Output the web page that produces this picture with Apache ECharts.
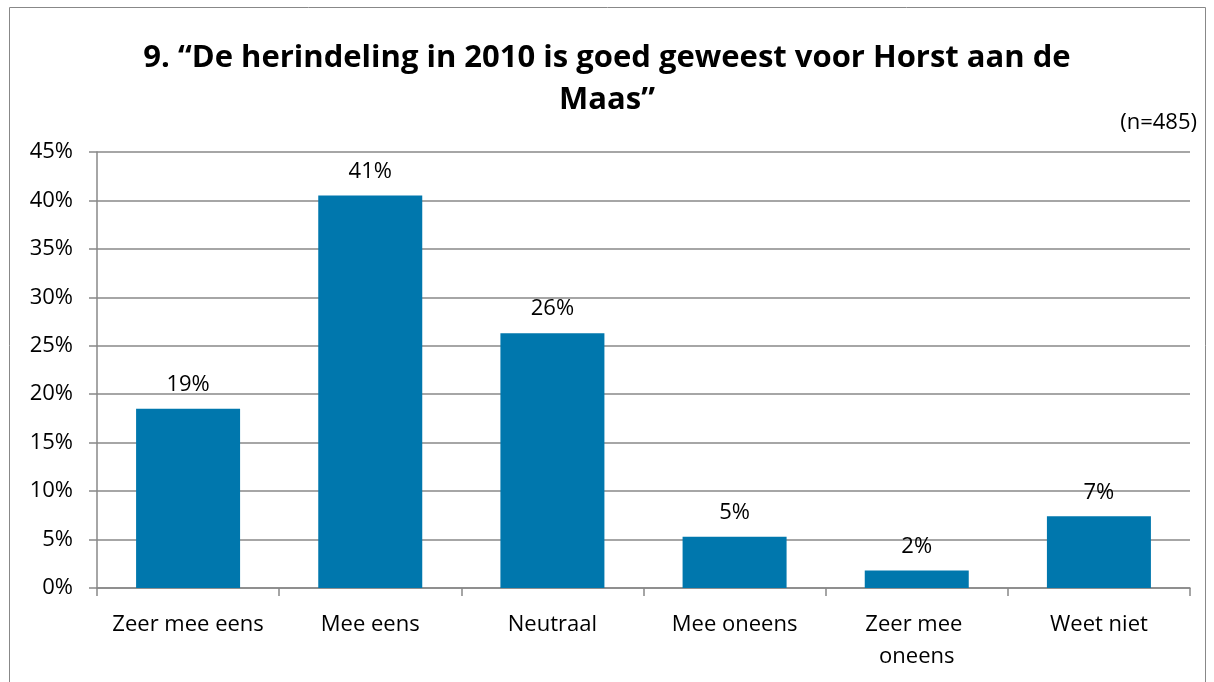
<!DOCTYPE html>
<html><head><meta charset="utf-8">
<script src="https://cdn.jsdelivr.net/npm/echarts@6/dist/echarts.min.js"></script>
<style>html,body{margin:0;padding:0;background:#fff}#c{width:1214px;height:682px}</style>
</head><body><div id="c"></div>
<script>
const categories = ["Zeer mee eens", "Mee eens", "Neutraal", "Mee oneens", "Zeer mee oneens", "Weet niet"];
const values = [18.5, 40.5, 26.3, 5.3, 1.8, 7.4];
const yTicks = {min: 0, max: 45, interval: 5};
const titleText = "9. \u201cDe herindeling in 2010 is goed geweest voor Horst aan de\nMaas\u201d";
const noteText = "(n=485)";
const FONT = "Open Sans";

const chart = echarts.init(document.getElementById('c'), null, {renderer: 'canvas'});
chart.setOption({
  animation: false,
  backgroundColor: '#fff',
  title: {
    text: titleText, left: 'center', top: 32,
    textStyle: {fontFamily: FONT, fontWeight: 'bold', fontSize: 31, color: '#000', lineHeight: 42}
  },
  graphic: [
    {type: 'rect', shape: {x: 9.5, y: 7.5, width: 1196, height: 690}, style: {fill: 'none', stroke: '#888', lineWidth: 1}},
    {type: 'text', right: 17, top: 112, style: {text: noteText, font: '22px ' + FONT, fill: '#000'}}
  ],
  grid: {left: 97, right: 24, top: 152, bottom: 94, containLabel: false},
  xAxis: {
    type: 'category', data: categories,
    axisLine: {lineStyle: {color: '#888', width: 1.5}},
    axisTick: {show: true, length: 8, lineStyle: {color: '#888', width: 1.5}},
    axisLabel: {fontFamily: FONT, fontSize: 22, color: '#000', margin: 21, lineHeight: 32,
      width: 165, overflow: 'break', interval: 0}
  },
  yAxis: {
    type: 'value', min: yTicks.min, max: yTicks.max, interval: yTicks.interval,
    axisLine: {show: true, lineStyle: {color: '#888', width: 1.5}},
    axisTick: {show: true, length: 8, lineStyle: {color: '#888', width: 1.5}},
    splitLine: {lineStyle: {color: '#888', width: 1.5}},
    axisLabel: {formatter: '{value}%', fontFamily: FONT, fontSize: 22, color: '#000', margin: 24}
  },
  series: [{
    type: 'bar', data: values, barWidth: 104,
    itemStyle: {color: '#0077AD'},
    label: {show: true, position: 'top', distance: 13, fontFamily: FONT, fontSize: 22, color: '#000',
      formatter: p => Math.round(p.value) + '%'}
  }]
});
</script></body></html>
